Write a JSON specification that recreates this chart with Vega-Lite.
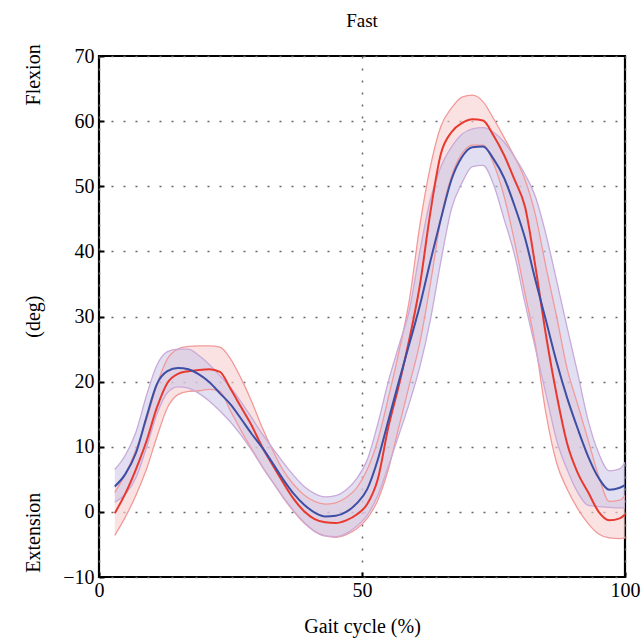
{
  "$schema": "https://vega.github.io/schema/vega-lite/v6.json",
  "width": 526,
  "height": 521,
  "autosize": {"type": "none"},
  "padding": {"left": 99, "top": 56, "right": 17, "bottom": 64},
  "background": "white",
  "title": {"text": "Fast", "font": "Liberation Serif", "fontSize": 19, "fontWeight": "normal", "color": "black", "offset": 13},
  "config": {
    "view": {"stroke": "black", "strokeWidth": 2.2},
    "font": "Liberation Serif",
    "axis": {
      "domain": false,
      "grid": true,
      "gridColor": "#666666",
      "gridDash": [2, 10],
      "gridWidth": 1.5,
      "ticks": true,
      "tickColor": "black",
      "tickWidth": 2,
      "tickSize": -5,
      "labelFont": "Liberation Serif",
      "labelFontSize": 20,
      "labelColor": "black",
      "titleFont": "Liberation Serif",
      "titleFontSize": 20,
      "titleFontWeight": "normal",
      "titleColor": "black"
    }
  },
  "datasets": {
    "red": [
      {"x": 3, "m": -0.2, "lo": -3.6, "hi": 3.0},
      {"x": 5, "m": 2.8, "lo": -0.8, "hi": 5.8},
      {"x": 7, "m": 6.5, "lo": 2.5, "hi": 9.5},
      {"x": 9, "m": 10.8, "lo": 6.5, "hi": 14.0},
      {"x": 11, "m": 16.0, "lo": 11.5, "hi": 19.5},
      {"x": 13, "m": 19.8, "lo": 16.0, "hi": 23.5},
      {"x": 15, "m": 21.2, "lo": 18.0, "hi": 25.0},
      {"x": 17, "m": 21.6, "lo": 18.5, "hi": 25.4},
      {"x": 19, "m": 21.8, "lo": 18.6, "hi": 25.5},
      {"x": 21, "m": 21.9, "lo": 18.8, "hi": 25.5},
      {"x": 23, "m": 21.5, "lo": 18.5, "hi": 25.3},
      {"x": 25, "m": 18.9, "lo": 15.5, "hi": 23.5},
      {"x": 27, "m": 16.1, "lo": 12.5, "hi": 20.5},
      {"x": 29, "m": 13.3, "lo": 9.7, "hi": 17.0},
      {"x": 31, "m": 10.0, "lo": 7.0, "hi": 13.0},
      {"x": 33, "m": 7.2, "lo": 4.6, "hi": 9.5},
      {"x": 35, "m": 4.5, "lo": 2.2, "hi": 6.4},
      {"x": 37, "m": 2.0, "lo": 0.1, "hi": 4.2},
      {"x": 39, "m": 0.1, "lo": -1.7, "hi": 2.6},
      {"x": 41, "m": -1.1, "lo": -3.0, "hi": 1.6},
      {"x": 43, "m": -1.6, "lo": -3.7, "hi": 1.2},
      {"x": 45, "m": -1.7, "lo": -3.9, "hi": 1.4},
      {"x": 47, "m": -1.3, "lo": -3.5, "hi": 2.2},
      {"x": 49, "m": -0.4, "lo": -2.6, "hi": 3.7},
      {"x": 51, "m": 1.2, "lo": -1.0, "hi": 6.5},
      {"x": 53, "m": 5.0, "lo": 1.8, "hi": 11.0},
      {"x": 55, "m": 13.0, "lo": 6.5, "hi": 17.5},
      {"x": 57, "m": 19.4, "lo": 13.0, "hi": 24.5},
      {"x": 59, "m": 26.5, "lo": 19.5, "hi": 32.5},
      {"x": 61, "m": 34.8, "lo": 26.0, "hi": 44.0},
      {"x": 63, "m": 46.0, "lo": 35.0, "hi": 53.0},
      {"x": 65, "m": 55.0, "lo": 45.0, "hi": 59.2},
      {"x": 67, "m": 58.3, "lo": 51.5, "hi": 62.0},
      {"x": 69, "m": 59.7, "lo": 55.0, "hi": 63.7},
      {"x": 71, "m": 60.3, "lo": 56.3, "hi": 64.0},
      {"x": 73, "m": 60.1, "lo": 56.3, "hi": 63.0},
      {"x": 75, "m": 57.8, "lo": 53.5, "hi": 60.4},
      {"x": 77, "m": 54.8, "lo": 48.5, "hi": 57.5},
      {"x": 79, "m": 51.0, "lo": 41.5, "hi": 54.5},
      {"x": 81, "m": 46.8, "lo": 33.5, "hi": 51.0},
      {"x": 83, "m": 37.5, "lo": 25.5, "hi": 45.5},
      {"x": 85, "m": 27.0, "lo": 15.0, "hi": 37.5},
      {"x": 87, "m": 18.0, "lo": 7.5, "hi": 30.0},
      {"x": 89, "m": 10.5, "lo": 3.5, "hi": 22.0},
      {"x": 91, "m": 6.0, "lo": 0.5, "hi": 16.5},
      {"x": 93, "m": 3.0, "lo": -1.8, "hi": 11.0},
      {"x": 95, "m": 0.0, "lo": -3.4, "hi": 5.5},
      {"x": 97, "m": -1.3, "lo": -4.0, "hi": 1.6},
      {"x": 99, "m": -1.0, "lo": -4.1, "hi": 1.8},
      {"x": 100, "m": -0.4, "lo": -4.0, "hi": 2.5}
    ],
    "blue": [
      {"x": 3, "m": 3.9, "lo": 1.5, "hi": 6.5},
      {"x": 5, "m": 5.8, "lo": 2.7, "hi": 8.7},
      {"x": 7, "m": 9.0, "lo": 5.2, "hi": 12.2},
      {"x": 9, "m": 14.5, "lo": 9.8, "hi": 17.8},
      {"x": 11, "m": 19.6, "lo": 15.0, "hi": 22.5},
      {"x": 13, "m": 21.6, "lo": 18.3, "hi": 24.6},
      {"x": 15, "m": 22.1, "lo": 19.2, "hi": 25.0},
      {"x": 17, "m": 21.9, "lo": 19.0, "hi": 25.0},
      {"x": 19, "m": 21.1, "lo": 18.2, "hi": 24.0},
      {"x": 21, "m": 19.9, "lo": 17.0, "hi": 22.6},
      {"x": 23, "m": 18.2, "lo": 15.5, "hi": 20.9},
      {"x": 25, "m": 16.5, "lo": 13.8, "hi": 19.1},
      {"x": 27, "m": 14.3, "lo": 11.8, "hi": 16.9},
      {"x": 29, "m": 12.0, "lo": 9.5, "hi": 14.5},
      {"x": 31, "m": 9.9, "lo": 7.0, "hi": 12.0},
      {"x": 33, "m": 7.5, "lo": 4.6, "hi": 9.8},
      {"x": 35, "m": 5.0, "lo": 2.3, "hi": 7.6},
      {"x": 37, "m": 2.8, "lo": 0.2, "hi": 5.6},
      {"x": 39, "m": 1.1, "lo": -1.6, "hi": 3.9},
      {"x": 41, "m": -0.1, "lo": -3.0, "hi": 2.8},
      {"x": 43, "m": -0.7, "lo": -3.7, "hi": 2.3},
      {"x": 45, "m": -0.6, "lo": -3.8, "hi": 2.5},
      {"x": 47, "m": 0.0, "lo": -3.3, "hi": 3.4},
      {"x": 49, "m": 1.3, "lo": -2.2, "hi": 5.1},
      {"x": 51, "m": 3.5, "lo": -0.5, "hi": 8.0},
      {"x": 53, "m": 8.0, "lo": 2.5, "hi": 13.5},
      {"x": 55, "m": 14.0, "lo": 7.0, "hi": 20.0},
      {"x": 57, "m": 20.0, "lo": 11.8, "hi": 25.5},
      {"x": 59, "m": 25.8, "lo": 16.7, "hi": 31.0},
      {"x": 61, "m": 31.7, "lo": 22.3, "hi": 40.0},
      {"x": 63, "m": 38.5, "lo": 29.5, "hi": 48.0},
      {"x": 65, "m": 45.0, "lo": 38.5, "hi": 53.0},
      {"x": 67, "m": 51.0, "lo": 46.5, "hi": 56.0},
      {"x": 69, "m": 54.5, "lo": 50.5, "hi": 58.0},
      {"x": 71, "m": 56.0, "lo": 53.0, "hi": 58.8},
      {"x": 73, "m": 56.1, "lo": 53.2, "hi": 59.0},
      {"x": 75, "m": 54.2, "lo": 50.3, "hi": 58.3},
      {"x": 77, "m": 51.3, "lo": 45.0, "hi": 56.8},
      {"x": 79, "m": 47.0, "lo": 39.5, "hi": 54.5},
      {"x": 81, "m": 42.0, "lo": 32.0, "hi": 51.8},
      {"x": 83, "m": 35.5, "lo": 25.0, "hi": 48.3},
      {"x": 85, "m": 29.3, "lo": 18.0, "hi": 42.5},
      {"x": 87, "m": 23.0, "lo": 11.0, "hi": 35.5},
      {"x": 89, "m": 17.5, "lo": 6.5, "hi": 28.3},
      {"x": 91, "m": 12.8, "lo": 3.0, "hi": 21.3},
      {"x": 93, "m": 8.5, "lo": 1.0, "hi": 14.0},
      {"x": 95, "m": 5.2, "lo": 0.8, "hi": 9.0},
      {"x": 97, "m": 3.4, "lo": 0.7, "hi": 6.3},
      {"x": 99, "m": 3.7, "lo": 0.6, "hi": 6.6},
      {"x": 100, "m": 4.1, "lo": 0.6, "hi": 7.6}
    ]
  },
  "layer": [
    {
      "data": {"name": "red"},
      "mark": {"type": "area", "interpolate": "monotone", "color": "#f9cfcf", "opacity": 0.6},
      "encoding": {
        "x": {"field": "x", "type": "quantitative", "scale": {"domain": [0, 100], "nice": false},
              "axis": {"values": [0, 50, 100], "title": "Gait cycle (%)", "labelPadding": 8, "labelFlush": false, "titlePadding": 16}},
        "y": {"field": "lo", "type": "quantitative", "scale": {"domain": [-10, 70], "nice": false},
              "axis": {"values": [-10, 0, 10, 20, 30, 40, 50, 60, 70], "labelPadding": 10,
                       "title": "Extension\u00a0\u00a0\u00a0\u00a0\u00a0\u00a0\u00a0\u00a0\u00a0\u00a0\u00a0\u00a0\u00a0\u00a0\u00a0\u00a0\u00a0\u00a0\u00a0\u00a0\u00a0\u00a0\u00a0\u00a0\u00a0\u00a0\u00a0\u00a0\u00a0\u00a0\u00a0(deg)\u00a0\u00a0\u00a0\u00a0\u00a0\u00a0\u00a0\u00a0\u00a0\u00a0\u00a0\u00a0\u00a0\u00a0\u00a0\u00a0\u00a0\u00a0\u00a0\u00a0\u00a0\u00a0\u00a0\u00a0\u00a0\u00a0\u00a0\u00a0\u00a0\u00a0\u00a0\u00a0\u00a0\u00a0\u00a0\u00a0\u00a0\u00a0Flexion",
                       "titleX": -60, "titleY": 252, "titleBaseline": "alphabetic"}},
        "y2": {"field": "hi"}
      }
    },
    {
      "data": {"name": "blue"},
      "mark": {"type": "area", "interpolate": "monotone", "color": "#cbc4e8", "opacity": 0.55},
      "encoding": {
        "x": {"field": "x", "type": "quantitative"},
        "y": {"field": "lo", "type": "quantitative"},
        "y2": {"field": "hi"}
      }
    },
    {
      "data": {"name": "red"},
      "mark": {"type": "line", "interpolate": "monotone", "color": "#f29a9a", "strokeWidth": 1.3},
      "encoding": {"x": {"field": "x", "type": "quantitative"}, "y": {"field": "lo", "type": "quantitative"}}
    },
    {
      "data": {"name": "red"},
      "mark": {"type": "line", "interpolate": "monotone", "color": "#f29a9a", "strokeWidth": 1.3},
      "encoding": {"x": {"field": "x", "type": "quantitative"}, "y": {"field": "hi", "type": "quantitative"}}
    },
    {
      "data": {"name": "blue"},
      "mark": {"type": "line", "interpolate": "monotone", "color": "#c9aad8", "strokeWidth": 1.3},
      "encoding": {"x": {"field": "x", "type": "quantitative"}, "y": {"field": "lo", "type": "quantitative"}}
    },
    {
      "data": {"name": "blue"},
      "mark": {"type": "line", "interpolate": "monotone", "color": "#c9aad8", "strokeWidth": 1.3},
      "encoding": {"x": {"field": "x", "type": "quantitative"}, "y": {"field": "hi", "type": "quantitative"}}
    },
    {
      "data": {"name": "red"},
      "mark": {"type": "line", "interpolate": "monotone", "color": "#e8392e", "strokeWidth": 2},
      "encoding": {"x": {"field": "x", "type": "quantitative"}, "y": {"field": "m", "type": "quantitative"}}
    },
    {
      "data": {"name": "blue"},
      "mark": {"type": "line", "interpolate": "monotone", "color": "#3d4fa5", "strokeWidth": 2},
      "encoding": {"x": {"field": "x", "type": "quantitative"}, "y": {"field": "m", "type": "quantitative"}}
    }
  ]
}
